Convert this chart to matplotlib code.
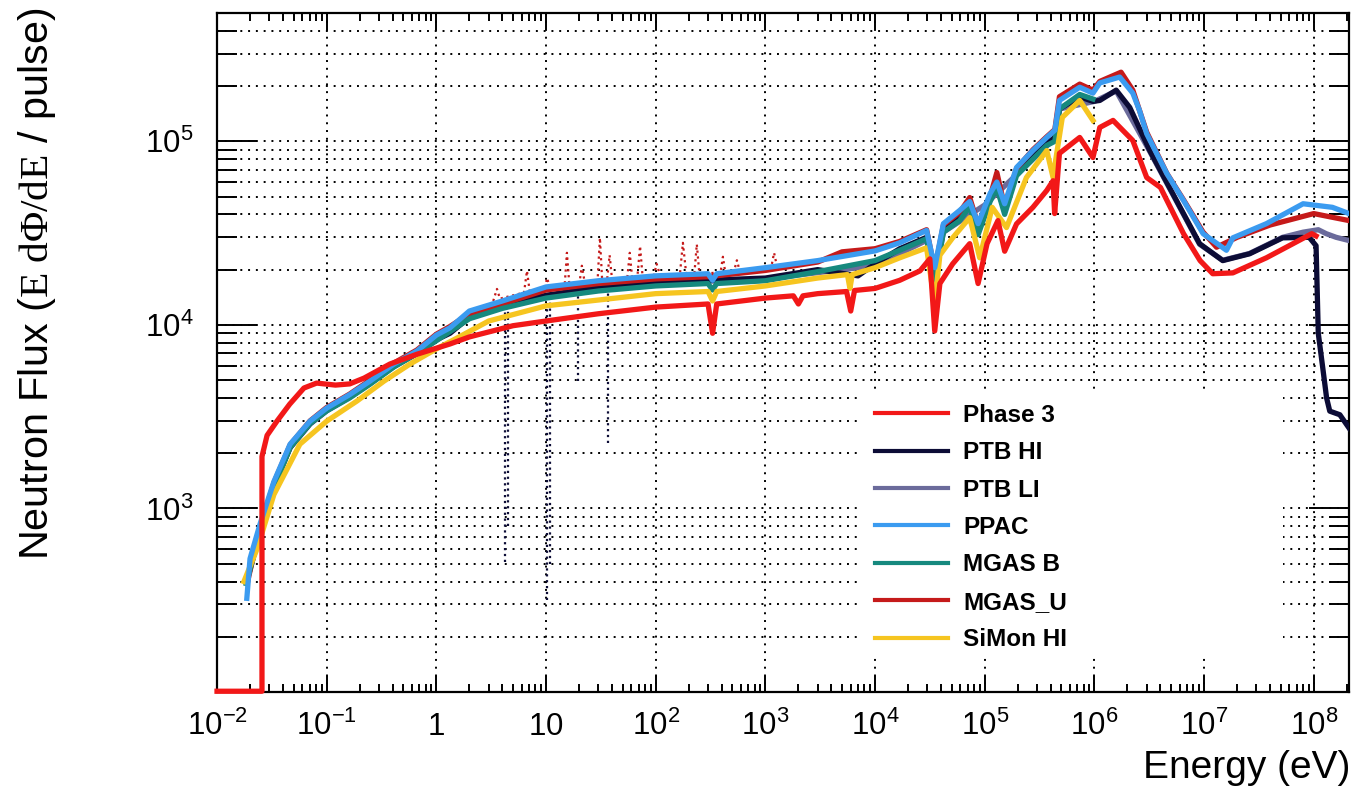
import numpy as np
import matplotlib
matplotlib.use('Agg')
import matplotlib.pyplot as plt
from matplotlib.patches import Rectangle
from matplotlib.ticker import LogLocator, NullFormatter

plt.rcParams['font.family'] = ['Liberation Sans', 'DejaVu Sans']
plt.rcParams['mathtext.fontset'] = 'custom'
plt.rcParams['mathtext.rm'] = 'Liberation Serif'
plt.rcParams['mathtext.it'] = 'Liberation Serif:italic'
plt.rcParams['mathtext.bf'] = 'Liberation Serif:bold'

# neutron flux per detector, E (eV) vs E dPhi/dE per pulse
phase3_e = [0.01, 0.0257, 0.0257, 0.0286, 0.0352, 0.046, 0.062, 0.081, 0.12, 0.162,
            0.219, 0.377, 0.665, 1.33, 2, 5, 10, 30, 100, 300,
            330, 360, 1000, 1800, 2000, 2200, 3000, 5500, 6000, 6500,
            1e4, 1.68e4, 2.57e4, 3.16e4, 3.5e4, 3.9e4, 5.1e4, 7.3e4, 8.7e4, 1.05e5,
            1.32e5, 1.52e5, 1.95e5, 2.75e5, 3.68e5, 4.2e5, 4.34e5, 4.8e5, 7.35e5, 9.7e5,
            1.12e6, 1.48e6, 2.24e6, 3.0e6, 4.0e6, 6.5e6, 9.2e6, 1.2e7, 1.83e7, 3.7e7,
            6.4e7, 9.6e7, 1.05e8]
phase3_y = [101, 101, 1920, 2500, 2990, 3700, 4530, 4820, 4700, 4770,
            5130, 6120, 6920, 7870, 8600, 9900, 10500, 11500, 12500, 13000,
            9000, 13000, 14000, 14400, 13000, 14400, 14800, 15200, 11900, 15400,
            15800, 17500, 19700, 22900, 9270, 16800, 21500, 27700, 16800, 27700,
            37000, 25200, 35500, 43700, 54000, 61000, 40400, 86000, 105000, 81600,
            119000, 130000, 101000, 63500, 56100, 31400, 22400, 19000, 19200, 23200,
            27600, 31400, 30500]

ptbhi_e = [0.0195, 0.0246, 0.033, 0.0464, 0.0705, 0.1, 0.162, 0.248, 0.41, 0.665,
           1, 1.33, 2, 4, 10, 30, 100, 300, 1000, 3000,
           7000, 1e4, 1.68e4, 2.95e4, 3.5e4, 4.2e4, 5.9e4, 7.3e4, 8.7e4, 1.12e5,
           1.29e5, 1.52e5, 1.95e5, 2.75e5, 3.68e5, 4.36e5, 4.8e5, 7.35e5, 9.7e5, 1.12e6,
           1.58e6, 2.1e6, 3.2e6, 5.6e6, 9.1e6, 1.48e7, 2.6e7, 5.2e7, 9.1e7, 1.05e8,
           1.1e8, 1.21e8, 1.31e8, 1.4e8, 1.73e8, 2.1e8]
ptbhi_y = [450, 740, 1320, 2150, 2900, 3420, 4050, 4800, 5950, 7000,
           8300, 9000, 11000, 12800, 14500, 16000, 17000, 17500, 18000, 20000,
           18500, 21500, 26000, 30000, 18000, 33000, 39000, 45000, 33000, 48000,
           56000, 42000, 67000, 83000, 98000, 105000, 150000, 175000, 165000, 167000,
           190000, 153000, 89000, 47600, 27700, 22400, 24400, 29800, 30000, 27000,
           9000, 5800, 4000, 3390, 3240, 2740]

ptbli_e = [0.0195, 0.0246, 0.033, 0.0464, 0.0705, 0.1, 0.162, 0.248, 0.41, 0.665,
           1, 2, 4, 10, 100, 1000, 1e4, 3e4, 3.5e4, 4.2e4,
           1e5, 4.36e5, 4.8e5, 1e6, 1.58e6, 3.2e6, 9.1e6, 1.48e7, 2.6e7, 5.2e7,
           8e7, 1.1e8, 1.3e8, 1.6e8, 2.1e8]
ptbli_y = [440, 730, 1310, 2140, 2880, 3400, 4030, 4780, 5920, 6950,
           8250, 10900, 12700, 14300, 16800, 17800, 21000, 29000, 18000, 32000,
           45000, 104000, 150000, 165000, 188000, 88000, 27500, 22500, 24500, 30000,
           32000, 33000, 31400, 30000, 28800]

ppac_e = [0.0187, 0.02, 0.0246, 0.033, 0.0464, 0.0705, 0.1, 0.162, 0.248, 0.41,
          0.665, 1, 1.33, 2, 4, 10, 30, 100, 300, 330,
          360, 1000, 3000, 1e4, 1.68e4, 2.95e4, 3.5e4, 4.2e4, 5.9e4, 7.3e4,
          8.7e4, 1.12e5, 1.29e5, 1.52e5, 1.95e5, 2.75e5, 3.68e5, 4.36e5, 4.8e5, 7.35e5,
          9.7e5, 1.12e6, 1.7e6, 2.24e6, 2.57e6, 3.0e6, 4.57e6, 6.5e6, 9.8e6, 1.6e7,
          1.83e7, 3.7e7, 8e7, 1.48e8, 2.1e8]
ppac_y = [324, 533, 818, 1400, 2240, 2990, 3520, 4170, 4940, 6120,
          7210, 8800, 9640, 11900, 13500, 16100, 17400, 18500, 19000, 17500,
          19000, 20500, 22400, 25300, 28000, 32700, 20500, 35600, 42000, 47000,
          35600, 52000, 60000, 45700, 72000, 89100, 105000, 115000, 167000, 197000,
          183000, 208000, 224000, 183000, 148000, 110000, 66800, 47600, 31400, 25500,
          29800, 35600, 45700, 43700, 40400]

mgasb_e = [0.0185, 0.0246, 0.033, 0.0464, 0.0705, 0.1, 0.162, 0.248, 0.41, 0.665,
           1, 2, 4, 10, 30, 100, 300, 330, 360, 1000,
           3000, 1e4, 1.68e4, 2.95e4, 3.5e4, 4.2e4, 5.9e4, 7.3e4, 8.7e4, 1.12e5,
           1.29e5, 1.52e5, 1.95e5, 2.75e5, 3.68e5, 4.36e5, 4.8e5, 7.35e5, 9.7e5]
mgasb_y = [390, 740, 1300, 2150, 2900, 3400, 4000, 4750, 5900, 7000,
           8200, 10800, 12300, 14000, 15300, 16300, 16800, 15500, 16800, 17400,
           19500, 22400, 25500, 29500, 17000, 32000, 37000, 44000, 31000, 47000,
           56000, 40000, 65000, 80000, 95000, 100000, 150000, 180000, 170000]

mgasu_e = [0.019, 0.0246, 0.033, 0.0464, 0.0705, 0.1, 0.162, 0.248, 0.41, 0.665,
           1, 1.33, 2, 4, 10, 30, 100, 300, 1000, 3000,
           5000, 1e4, 1.68e4, 2.95e4, 3.5e4, 4.2e4, 5.9e4, 7.3e4, 8.7e4, 1.12e5,
           1.29e5, 1.52e5, 1.95e5, 2.75e5, 3.68e5, 4.36e5, 4.8e5, 7.35e5, 9.7e5, 1.12e6,
           1.75e6, 2.24e6, 3.0e6, 4.57e6, 6.5e6, 9.8e6, 1.3e7, 2e7, 4e7, 1e8,
           1.5e8, 2.1e8]
mgasu_y = [400, 780, 1380, 2220, 3000, 3550, 4200, 5000, 6200, 7300,
           8900, 9800, 11500, 13000, 15500, 16800, 17800, 18300, 19800, 22000,
           25000, 26000, 28500, 33000, 20000, 35000, 41000, 49400, 35000, 50000,
           67600, 44000, 71000, 90000, 106000, 116000, 175000, 205000, 190000, 212000,
           238000, 190000, 112000, 67000, 48000, 32000, 26500, 30000, 35000, 40400,
           38500, 37000]

simon_e = [0.0176, 0.0232, 0.033, 0.057, 0.1, 0.189, 0.333, 0.575, 1, 1.55,
           3, 10, 100, 300, 330, 360, 1000, 3000, 5600, 5900,
           6200, 1e4, 1.68e4, 2.95e4, 3.5e4, 3.9e4, 5.1e4, 7.3e4, 9.0e4, 1.17e5,
           1.58e5, 2.4e5, 3.68e5, 4.2e5, 4.45e5, 5.1e5, 7.35e5, 9.7e5]
simon_y = [400, 603, 1190, 2240, 2990, 3850, 4940, 6120, 7400, 8490,
           10500, 12700, 14800, 15200, 13500, 15200, 16300, 18000, 18800, 15800,
           18800, 20500, 23200, 26300, 13000, 24000, 29800, 38400, 23200, 43700,
           33900, 63500, 89100, 63500, 80000, 135000, 167000, 130000]

# low-statistics fluctuations (thin dotted traces)
mgasu_noise_e = [3.3, 3.57, 3.8, 6.3, 6.7, 7.1, 9.8, 10.2, 10.8, 14.8, 15.5, 16.3,
                 20.2, 21.2, 22.5, 29.5, 31, 32.5, 36, 38, 40, 55, 58, 61,
                 68, 72, 76, 96, 102, 110, 166, 177, 190, 225, 237, 250,
                 390, 410, 430, 520, 550, 580, 1130, 1200, 1280]
mgasu_noise_y = [13500, 15700, 13900, 15000, 19700, 15200, 16000, 18000, 16200, 16500, 24700, 16700,
                 17000, 21000, 17100, 17300, 29800, 17400, 17500, 24000, 17600, 17900, 24700, 18000,
                 18100, 26900, 18200, 18400, 21500, 18500, 18700, 28000, 18800, 18900, 27500, 19000,
                 19300, 23500, 19400, 19800, 22500, 19900, 20500, 24700, 20700]
ptbhi_dip_e = [4.2, 4.5, 10.2, 10.8, 19.5, 36.6]
ptbhi_dip_low = [514, 800, 318, 500, 4940, 2260]
ptbhi_dip_top = [12800, 12900, 14500, 14600, 15500, 16000]

xtick_e = [1e-2, 1e-1, 1, 10, 1e2, 1e3, 1e4, 1e5, 1e6, 1e7, 1e8]
xtick_text = [r'$\mathdefault{10^{-2}}$', r'$\mathdefault{10^{-1}}$', r'$\mathdefault{1}$',
              r'$\mathdefault{10}$', r'$\mathdefault{10^{2}}$', r'$\mathdefault{10^{3}}$',
              r'$\mathdefault{10^{4}}$', r'$\mathdefault{10^{5}}$', r'$\mathdefault{10^{6}}$',
              r'$\mathdefault{10^{7}}$', r'$\mathdefault{10^{8}}$']
ytick_v = [1e3, 1e4, 1e5]

c_phase3 = '#f21818'
c_ptbhi = '#0c0c36'
c_ptbli = '#6b6b9b'
c_ppac = '#3b9bf0'
c_mgasb = '#16897e'
c_mgasu = '#c51a1a'
c_simon = '#f6c520'

fig = plt.figure(figsize=(13.53, 7.89), dpi=100)
ax = fig.add_axes([0.1604, 0.1229, 0.8367, 0.8606])
ax.set_xscale('log')
ax.set_yscale('log')

lw = 3.8
ax.plot(mgasu_noise_e, mgasu_noise_y, color=c_mgasu, lw=1.6, ls=':', zorder=2)
ax.vlines(ptbhi_dip_e, ptbhi_dip_low, ptbhi_dip_top, colors=c_ptbhi, lw=1.6,
          linestyles=':', zorder=2)
h_li, = ax.plot(ptbli_e, ptbli_y, color=c_ptbli, lw=lw, label='PTB LI', zorder=3)
h_hi, = ax.plot(ptbhi_e, ptbhi_y, color=c_ptbhi, lw=lw, label='PTB HI', zorder=3)
h_u, = ax.plot(mgasu_e, mgasu_y, color=c_mgasu, lw=lw, label='MGAS_U', zorder=3)
h_b, = ax.plot(mgasb_e, mgasb_y, color=c_mgasb, lw=lw, label='MGAS B', zorder=3)
h_si, = ax.plot(simon_e, simon_y, color=c_simon, lw=lw, label='SiMon HI', zorder=3)
h_pp, = ax.plot(ppac_e, ppac_y, color=c_ppac, lw=lw, label='PPAC', zorder=3)
h_p3, = ax.plot(phase3_e, phase3_y, color=c_phase3, lw=lw, label='Phase 3',
                zorder=3, clip_on=False)

ax.set_xlim(1e-2, 2.1e8)
ax.set_ylim(100, 5e5)

ax.set_xticks(xtick_e)
ax.set_xticklabels(xtick_text)
ax.set_yticks(ytick_v)
ax.xaxis.set_minor_locator(LogLocator(base=10, subs=range(2, 10), numticks=30))
ax.yaxis.set_minor_locator(LogLocator(base=10, subs=range(2, 10), numticks=30))
ax.xaxis.set_minor_formatter(NullFormatter())
ax.yaxis.set_minor_formatter(NullFormatter())

ax.tick_params(which='both', direction='in', top=True, right=True, width=1.4,
               labelsize=22.5)
ax.tick_params(axis='y', which='major', length=29, pad=17)
ax.tick_params(axis='y', which='minor', length=14.5)
ax.tick_params(axis='x', which='major', length=11.5, pad=31)
ax.tick_params(axis='x', which='minor', length=5.8)
for lbl in ax.get_xticklabels():
    lbl.set_verticalalignment('baseline')
for sp in ax.spines.values():
    sp.set_linewidth(1.6)

grid_kw = dict(color='black', lw=1.4, ls=(0, (1, 3.0)))
ax.grid(True, axis='x', which='major', **grid_kw)
ax.grid(True, axis='y', which='both', **grid_kw)
ax.set_axisbelow(True)

# blank pad behind the legend so the grid does not run through it
ax.add_patch(Rectangle((0.566, 0.0545), 0.376, 0.3875, transform=ax.transAxes,
                       facecolor='white', edgecolor='none', zorder=1.5))

fig.text(0.998, 0.014, 'Energy (eV)', ha='right', va='baseline', fontsize=28)
fig.text(0.027, 0.99, r'Neutron Flux ($\mathrm{E\ d\Phi/dE}$ / pulse)',
         rotation=90, ha='center', va='top', fontsize=29.8)

leg = ax.legend(handles=[h_p3, h_hi, h_li, h_pp, h_b, h_u, h_si],
                loc='upper left', bbox_to_anchor=(0.6467, 0.488),
                bbox_transform=fig.transFigure, frameon=False,
                prop={'weight': 'bold', 'size': 17.5}, handlelength=3.0,
                handletextpad=0.62, labelspacing=0.59, borderpad=0,
                borderaxespad=0)
for ln in leg.get_lines():
    ln.set_linewidth(3.0)

fig.savefig('out.png', dpi=100)
